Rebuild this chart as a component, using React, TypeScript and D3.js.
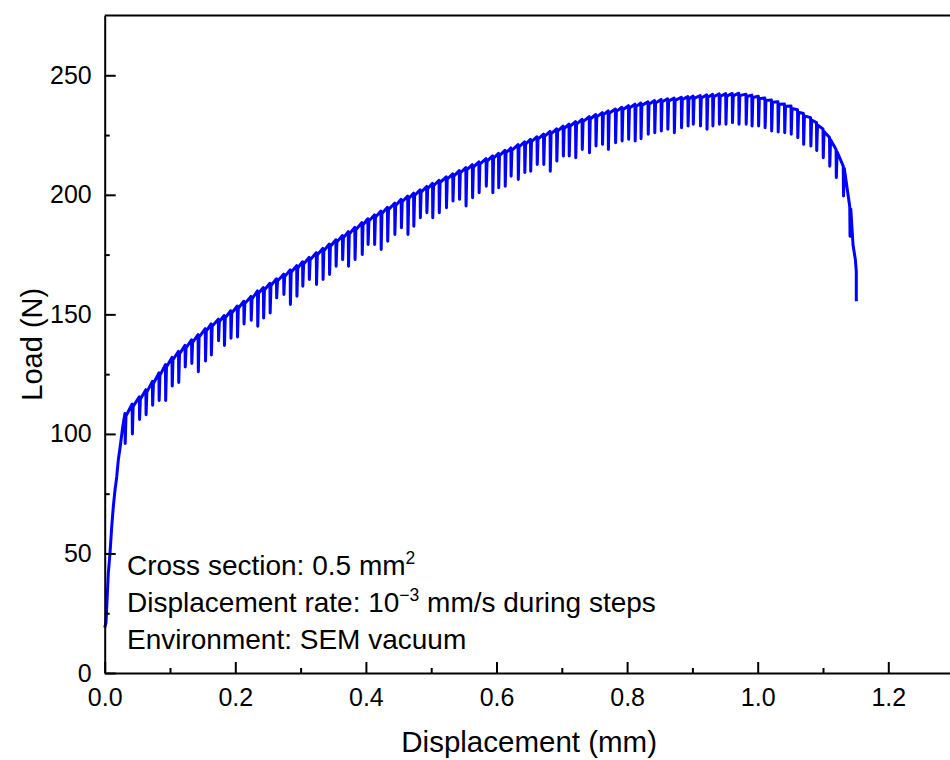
import React, { useEffect, useRef } from "react";
import * as d3 from "d3";

// initial elastic loading (mm, N)
const loadingDisp = [0.0, 0.002, 0.0055, 0.0081, 0.0107, 0.0132, 0.0158, 0.0184, 0.0208, 0.0234, 0.0276];
const loadingLoad = [19, 21, 41.7, 50, 61, 69.6, 76.6, 82, 89, 94, 103];

// relaxation steps: displacement where the step ends, load before and after relaxation
const stepDisp = [
  0.031, 0.042, 0.053, 0.063, 0.073, 0.083, 0.093, 0.103, 0.113, 0.123, 0.133, 0.143, 0.154, 0.163, 0.174, 0.183, 0.193, 0.203, 0.213, 0.224, 0.234,
  0.243, 0.253, 0.263, 0.274, 0.284, 0.294, 0.303, 0.313, 0.324, 0.334, 0.344, 0.354, 0.364, 0.373, 0.383, 0.394, 0.403, 0.413, 0.423, 0.433, 0.444, 0.454, 0.464, 0.473,
  0.483, 0.493, 0.502, 0.512, 0.523, 0.533, 0.543, 0.553, 0.563, 0.573, 0.584, 0.594, 0.603, 0.613, 0.622, 0.633, 0.643, 0.652, 0.662, 0.672, 0.682, 0.692, 0.702,
  0.711, 0.721, 0.731, 0.742, 0.752, 0.762, 0.771, 0.782, 0.792, 0.802, 0.812, 0.821, 0.832, 0.842, 0.852, 0.862, 0.872, 0.883, 0.893, 0.901, 0.912,
  0.922, 0.931, 0.941, 0.951, 0.961, 0.971, 0.982, 0.991, 1.001, 1.011, 1.021, 1.031, 1.041, 1.051, 1.061, 1.07, 1.081, 1.09, 1.1, 1.11, 1.12, 1.131, 1.141,
];
const stepPeak = [
  108.5, 112.5, 115.5, 118.5, 122, 125.5, 129, 132, 134.5, 137, 139.3, 141.5, 144, 146, 148, 149.5, 151.5, 153.5, 155.5, 157.5, 159.8,
  161.2, 163, 164.9, 166.8, 168.6, 170.4, 172, 173.8, 175.8, 177.6, 179.4, 181.2, 183, 184.6, 186.4, 188.4, 190, 191.6, 193.2, 194.8, 196.5, 198.1, 199.5, 200.7,
  202.1, 203.5, 204.8, 206.1, 207.5, 208.8, 210.1, 211.4, 212.6, 213.8, 215.1, 216.3, 217.4, 218.6, 219.6, 221, 222.2, 223.2, 224.3, 225.4, 226.5, 227.6, 228.7,
  229.6, 230.6, 231.6, 232.7, 233.6, 234.4, 235.1, 235.9, 236.6, 237.3, 237.9, 238.4, 238.9, 239.4, 239.9, 240.2, 240.5, 240.8, 241.1, 241.3, 241.5,
  241.8, 242, 242.2, 242.3, 242.4, 242.5, 242.1, 241.7, 241.2, 240.5, 239.7, 238.9, 238, 237.1, 235.6, 234, 232.3, 230.2, 227.5, 224, 219, 212, 195,
];
const stepMin = [
  96, 100, 106, 108, 112, 114, 114, 120, 121.5, 128, 129.5, 126, 130.5, 133, 139, 137, 140, 140.5, 146, 147.5, 145,
  148.5, 150.6, 156.9, 158.3, 154.1, 157.6, 161.8, 164.6, 162.5, 164.6, 166.7, 170.1, 172.9, 170.1, 172.9, 175, 179.2, 179.2, 177.1, 180.6, 183.4, 186.2, 183.4, 186.9,
  190.4, 192.5, 190.4, 192.5, 194.6, 197.4, 198.1, 195.3, 198.8, 200.9, 203.6, 200.9, 203, 203.6, 207.8, 206.4, 209.3, 209.9, 212.7, 212.7, 209.9, 214.1, 216.2,
  216.2, 215.5, 219, 217.6, 220.4, 221.1, 219, 221.8, 222.5, 223.2, 222.5, 223.5, 225.3, 226, 226.7, 227.4, 226, 228.1, 228.8, 229.5, 228.8,
  227.4, 228.8, 229.5, 229.5, 230.2, 229.5, 229.5, 228.8, 228.8, 228.1, 226.7, 226.3, 226, 225.3, 223.9, 221.1, 220.4, 218.5, 215.5, 212, 207.2, 199.5, 182.7,
];

// final drop to fracture
const fractureDisp = [1.146, 1.1495, 1.151, 1.151];
const fractureLoad = [179, 173, 168, 155.5];

const xTicks = [0, 0.2, 0.4, 0.6, 0.8, 1.0, 1.2];
const xMinorTicks = [0.1, 0.3, 0.5, 0.7, 0.9, 1.1];
const yTicks = [0, 50, 100, 150, 200, 250];
const yMinorTicks = [25, 75, 125, 175, 225];

const FONT = "'Liberation Sans', Arial, sans-serif";
const reloadGap = 0.0016;

export default function App() {
  const xAxisRef = useRef<SVGGElement>(null);
  const xMinorRef = useRef<SVGGElement>(null);
  const yAxisRef = useRef<SVGGElement>(null);
  const yMinorRef = useRef<SVGGElement>(null);

  const x = d3.scaleLinear().domain([0, 1.3]).range([104.7, 953.6]);
  const y = d3.scaleLinear().domain([0, 275]).range([673, 15.5]);

  // build the load trace
  const pts: [number, number][] = loadingDisp.map((d, i) => [d, loadingLoad[i]]);
  stepDisp.forEach((d, i) => {
    pts.push([d, stepPeak[i]]);
    pts.push([d + 0.0004, stepMin[i]]);
    pts.push([d + reloadGap, stepPeak[i] - 1]);
  });
  fractureDisp.forEach((d, i) => pts.push([d, fractureLoad[i]]));

  const line = d3
    .line<[number, number]>()
    .x((d) => x(d[0]))
    .y((d) => y(d[1]));

  useEffect(() => {
    const style = (g: any, withText: boolean) => {
      g.selectAll("line").attr("stroke", "#000").attr("stroke-width", 2);
      g.selectAll(".domain").attr("stroke", "#000").attr("stroke-width", 2);
      if (withText) {
        g.attr("font-size", 25).attr("font-family", FONT);
        g.selectAll("text").attr("fill", "#000");
      }
    };

    const gx = d3.select(xAxisRef.current!);
    gx.call(
      d3.axisBottom(x).tickValues(xTicks).tickFormat(d3.format(".1f") as any)
        .tickSizeInner(-11).tickSizeOuter(0).tickPadding(15)
    );
    style(gx, true);

    const gxm = d3.select(xMinorRef.current!);
    gxm.call(d3.axisBottom(x).tickValues(xMinorTicks).tickFormat(() => "").tickSizeInner(-5).tickSizeOuter(0));
    gxm.select(".domain").remove();
    style(gxm, false);

    const gy = d3.select(yAxisRef.current!);
    gy.call(
      d3.axisLeft(y).tickValues(yTicks).tickFormat(d3.format("d") as any)
        .tickSizeInner(-11).tickSizeOuter(0).tickPadding(13)
    );
    style(gy, true);

    const gym = d3.select(yMinorRef.current!);
    gym.call(d3.axisLeft(y).tickValues(yMinorTicks).tickFormat(() => "").tickSizeInner(-5).tickSizeOuter(0));
    gym.select(".domain").remove();
    style(gym, false);
  }, []);

  return (
    <svg
      width={950}
      height={760}
      style={{ position: "absolute", left: 0, top: 0, background: "#fff" }}
      fontFamily={FONT}
    >
      <path d={line(pts) || ""} fill="none" stroke="#0000ff" strokeWidth={3} strokeLinejoin="round" />
      <line x1={x(0)} x2={x(1.3)} y1={y(275)} y2={y(275)} stroke="#000" strokeWidth={2} />
      <g ref={xMinorRef} transform={`translate(0,${y(0)})`} />
      <g ref={xAxisRef} transform={`translate(0,${y(0)})`} />
      <g ref={yMinorRef} transform={`translate(${x(0)},0)`} />
      <g ref={yAxisRef} transform={`translate(${x(0)},0)`} />

      <text x={(x(0) + x(1.3)) / 2} y={752} textAnchor="middle" fontSize={29.5} fill="#000">
        Displacement (mm)
      </text>
      <text
        transform={`translate(42,${(y(0) + y(275)) / 2}) rotate(-90)`}
        textAnchor="middle"
        fontSize={29}
        fill="#000"
      >
        Load (N)
      </text>

      <g fontSize={28} fill="#000">
        <text x={127} y={575}>
          Cross section: 0.5 mm<tspan fontSize={17.5} dy={-11}>2</tspan>
        </text>
        <text x={127} y={612}>
          Displacement rate: 10<tspan fontSize={17.5} dy={-11}>−3</tspan>
          <tspan dy={11}> mm/s during steps</tspan>
        </text>
        <text x={127} y={649}>
          Environment: SEM vacuum
        </text>
      </g>
    </svg>
  );
}
